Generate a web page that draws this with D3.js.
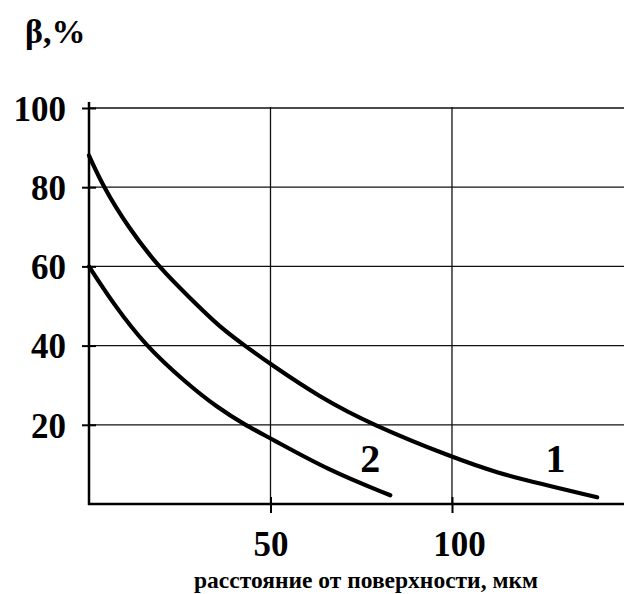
<!DOCTYPE html>
<html>
<head>
<meta charset="utf-8">
<script src="https://cdn.jsdelivr.net/npm/d3@7"></script>
<style>
html,body{margin:0;padding:0;background:#fff;}
svg{display:block;}
text{font-family:"Liberation Serif","Times New Roman",serif;font-weight:bold;fill:#000;}
</style>
</head>
<body>
<script>
// Data
const yTicks = [20, 40, 60, 80, 100];
const xTicks = [50, 100];
const yTitle = "β,%";
const xTitle = "расстояние от поверхности, мкм";
const curve1X = [0, 4, 10.7, 19, 28.4, 36, 42.9, 50, 63.5, 78, 100, 113, 124, 140];
const curve1Y = [88, 80, 70, 60, 51.5, 44.7, 40, 35.3, 27, 20, 11.8, 7.7, 5.2, 1.7];
const curve2X = [0, 6.6, 15.5, 27, 35.3, 42.9, 50, 66, 83];
const curve2Y = [60, 50.7, 40, 30.4, 24.4, 20, 16.6, 8.5, 2.2];
const seriesLabels = ["1", "2"];
const labelPos = [[128.5, 11.5], [77.5, 11.5]];

const W = 624, H = 594;
const svg = d3.select("body").append("svg").attr("width", W).attr("height", H);

const x = d3.scaleLinear().domain([0, 147.5]).range([89, 624.4]);
const y = d3.scaleLinear().domain([0, 100]).range([504, 108]);

// gridlines
svg.append("g").selectAll("line.h").data(yTicks).join("line")
  .attr("x1", x(0)).attr("x2", W).attr("y1", d => y(d)).attr("y2", d => y(d))
  .attr("stroke", "#111").attr("stroke-width", 1.3);
svg.append("g").selectAll("line.v").data(xTicks).join("line")
  .attr("x1", d => x(d)).attr("x2", d => x(d)).attr("y1", y(100) - 1).attr("y2", y(0))
  .attr("stroke", "#111").attr("stroke-width", 1.3);

// y axis
const yAxis = svg.append("g").attr("transform", `translate(${x(0)},0)`)
  .call(d3.axisLeft(y).tickValues(yTicks).tickSize(7).tickPadding(12));
yAxis.select(".domain").remove();
yAxis.append("line").attr("x1", 0).attr("x2", 0).attr("y1", y(100) - 6).attr("y2", y(0) + 1)
  .attr("stroke", "#000").attr("stroke-width", 2.5);
yAxis.selectAll(".tick line").attr("x2", 7).attr("x1", -7).attr("stroke", "#000").attr("stroke-width", 2);
yAxis.selectAll(".tick text").attr("x", -23).attr("dy", "0.35em")
  .style("font-size", "35px").style("font-family", "Liberation Serif").style("font-weight", "bold").attr("fill", "#000");

// x axis
const xAxis = svg.append("g").attr("transform", `translate(0,${y(0)})`)
  .call(d3.axisBottom(x).tickValues(xTicks).tickSize(9).tickPadding(18));
xAxis.select(".domain").remove();
xAxis.append("line").attr("x1", x(0) - 1).attr("x2", W).attr("y1", 0).attr("y2", 0)
  .attr("stroke", "#000").attr("stroke-width", 2.5);
xAxis.selectAll(".tick line").attr("y1", -7).attr("y2", 9).attr("stroke", "#000").attr("stroke-width", 2);
xAxis.selectAll(".tick text").attr("dy", "0.71em")
  .style("font-size", "35px").style("font-family", "Liberation Serif").style("font-weight", "bold").attr("fill", "#000");
xAxis.selectAll(".tick text").filter(d => d === 100).attr("dx", 7);

// curves
const line = d3.line().x(d => x(d[0])).y(d => y(d[1])).curve(d3.curveBasis);
const c1 = curve1X.map((v, i) => [v, curve1Y[i]]);
const c2 = curve2X.map((v, i) => [v, curve2Y[i]]);
[c1, c2].forEach(c => {
  svg.append("path").attr("d", line(c)).attr("fill", "none")
    .attr("stroke", "#000").attr("stroke-width", 4.2).attr("stroke-linecap", "round").attr("stroke-linejoin", "round");
});

// series labels
svg.selectAll("text.lbl").data(seriesLabels).join("text").attr("class", "lbl")
  .attr("x", (d, i) => x(labelPos[i][0])).attr("y", (d, i) => y(labelPos[i][1]))
  .attr("text-anchor", "middle").attr("dy", "0.35em")
  .style("font-size", "40px").text(d => d);

// titles
svg.append("text").attr("x", 25).attr("y", 43).style("font-size", "34px").text(yTitle);
svg.append("text").attr("x", 366).attr("y", 588).attr("text-anchor", "middle")
  .style("font-size", "23.5px").text(xTitle);
</script>
</body>
</html>
